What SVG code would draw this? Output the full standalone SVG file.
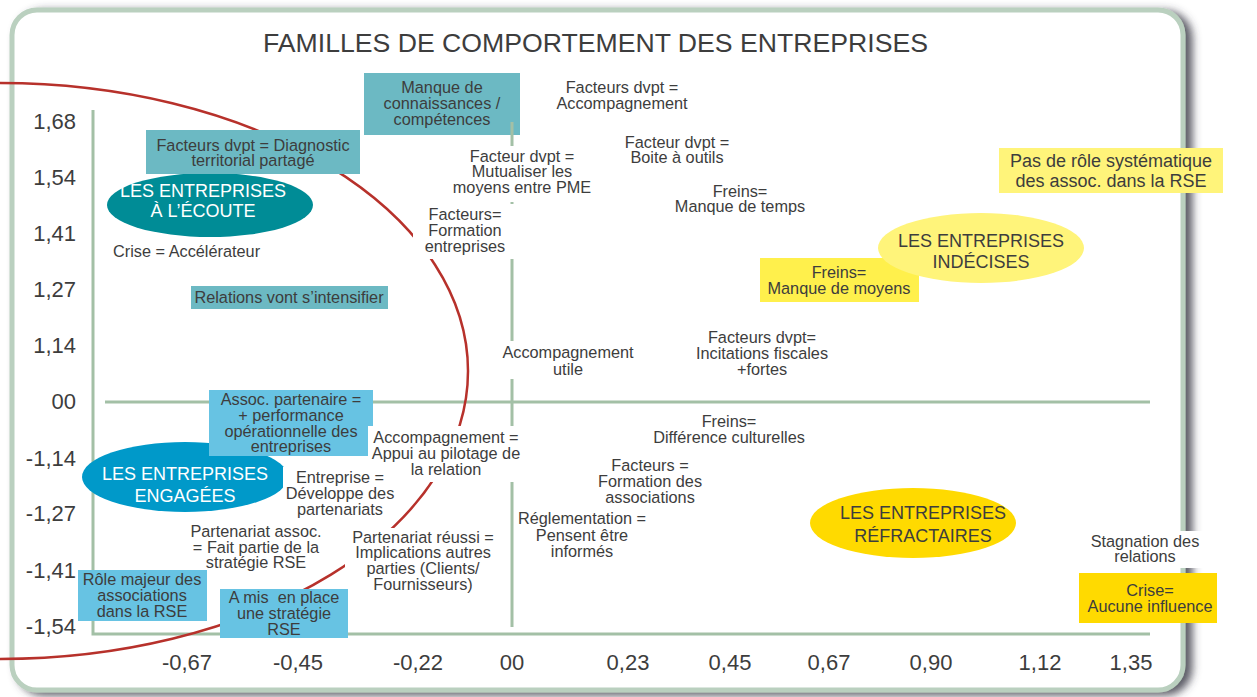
<svg xmlns="http://www.w3.org/2000/svg" width="1257" height="697" viewBox="0 0 1257 697">
<defs>
<filter id="sh" x="-3%" y="-4%" width="106%" height="108%">
<feGaussianBlur in="SourceAlpha" stdDeviation="4"/>
<feOffset dx="7" dy="3" result="b"/>
<feFlood flood-color="#3e3e4a" flood-opacity="0.85"/>
<feComposite in2="b" operator="in"/>
<feMerge><feMergeNode/><feMergeNode in="SourceGraphic"/></feMerge>
</filter>
<style>
text{font-family:"Liberation Sans",Arial,sans-serif;fill:#3d3d3d}
.l{font-size:16.3px;text-anchor:middle}
.ax{font-size:22px}
.ya{text-anchor:end}
.xa{text-anchor:middle}
.e{font-size:18px;text-anchor:middle}
.ew{fill:#fff}
.w{fill:#fff}
.axis{stroke:#a3c0a6;stroke-width:3;fill:none}
.teal{fill:#6cb9c3}
.blue{fill:#67c3e3}
.yel{fill:#fff04c}
.lyel{fill:#fff47a}
.gold{fill:#ffda00}
</style>
</defs>
<rect width="1257" height="697" fill="#fff"/>
<rect id="frame" x="12" y="10" width="1171" height="680" rx="25" fill="#fff" stroke="#bad0bf" stroke-width="5" filter="url(#sh)"/>
<text id="title" x="595.5" y="52" font-size="26" text-anchor="middle" textLength="665" lengthAdjust="spacingAndGlyphs">FAMILLES DE COMPORTEMENT DES ENTREPRISES</text>

<g id="y-labels" class="ax ya">
<text x="76" y="129">1,68</text>
<text x="76" y="185">1,54</text>
<text x="76" y="241">1,41</text>
<text x="76" y="297">1,27</text>
<text x="76" y="353">1,14</text>
<text x="76" y="409">00</text>
<text x="76" y="466">-1,14</text>
<text x="76" y="521">-1,27</text>
<text x="76" y="578">-1,41</text>
<text x="76" y="634">-1,54</text>
</g>
<g id="x-labels" class="ax xa">
<text x="187" y="670">-0,67</text>
<text x="298" y="670">-0,45</text>
<text x="418" y="670">-0,22</text>
<text x="512" y="670">00</text>
<text x="628" y="670">0,23</text>
<text x="730" y="670">0,45</text>
<text x="829" y="670">0,67</text>
<text x="931" y="670">0,90</text>
<text x="1040" y="670">1,12</text>
<text x="1131" y="670">1,35</text>
</g>

<g id="n-manque">
<rect class="teal" x="364" y="73" width="156" height="62"/>
<text class="l" x="442"><tspan x="442" y="93">Manque de</tspan><tspan x="442" y="109">connaissances /</tspan><tspan x="442" y="125">compétences</tspan></text>
</g>

<g id="axes">
<polyline class="axis" points="93,110 93,634 1150,634"/>
<line class="axis" x1="105" y1="402" x2="1150" y2="402"/>
<line class="axis" x1="512" y1="122" x2="512" y2="627"/>
</g>

<ellipse id="curve" cx="0" cy="371" rx="468" ry="288" fill="none" stroke="#b7312b" stroke-width="2.5"/>

<g id="n-ecoute">
<ellipse cx="210" cy="205" rx="103" ry="32" fill="#008c96"/>
<text class="e"><tspan class="ew" x="203" y="197">LES ENTREPRISES</tspan><tspan class="ew" x="203" y="217">À L’ÉCOUTE</tspan></text>
</g>
<g id="n-diagnostic">
<rect class="teal" x="146" y="130" width="214" height="44"/>
<text class="l"><tspan x="253" y="151">Facteurs dvpt = Diagnostic</tspan><tspan x="253" y="166">territorial partagé</tspan></text>
</g>
<g id="n-crise-acc">
<text class="l" x="113" y="257" style="text-anchor:start">Crise = Accélérateur</text>
</g>
<g id="n-relations">
<rect class="teal" x="191" y="286" width="197" height="23"/>
<text class="l" x="289" y="303">Relations vont s’intensifier</text>
</g>
<g id="n-accompagnement-top">
<text class="l"><tspan x="622" y="93">Facteurs dvpt =</tspan><tspan x="622" y="109">Accompagnement</tspan></text>
</g>
<g id="n-boite">
<text class="l"><tspan x="677" y="148">Facteur dvpt =</tspan><tspan x="677" y="163">Boite à outils</tspan></text>
</g>
<g id="n-mutualiser">
<rect class="w" x="455" y="146" width="134" height="56"/>
<text class="l"><tspan x="522" y="162">Facteur dvpt =</tspan><tspan x="522" y="177">Mutualiser les</tspan><tspan x="522" y="193">moyens entre PME</tspan></text>
</g>
<g id="n-temps">
<text class="l"><tspan x="740" y="197">Freins=</tspan><tspan x="740" y="212">Manque de temps</tspan></text>
</g>
<g id="n-formation-ent">
<rect class="w" x="413" y="204" width="106" height="55"/>
<text class="l"><tspan x="465" y="220">Facteurs=</tspan><tspan x="465" y="236">Formation</tspan><tspan x="465" y="252">entreprises</tspan></text>
</g>
<g id="n-moyens">
<rect class="yel" x="760" y="258" width="159" height="44"/>
<text class="l"><tspan x="839" y="278">Freins=</tspan><tspan x="839" y="294">Manque de moyens</tspan></text>
</g>
<g id="n-indecises">
<ellipse class="lyel" cx="981" cy="248" rx="103" ry="35"/>
<text class="e"><tspan x="981" y="247">LES ENTREPRISES</tspan><tspan x="981" y="268">INDÉCISES</tspan></text>
</g>
<g id="n-pas-de-role">
<rect class="lyel" x="999" y="148" width="224" height="45"/>
<text class="l" style="font-size:18px"><tspan x="1111" y="167">Pas de rôle systématique</tspan><tspan x="1111" y="187">des assoc. dans la RSE</tspan></text>
</g>
<g id="n-acc-utile">
<rect class="w" x="497" y="341" width="142" height="38"/>
<text class="l"><tspan x="568" y="358">Accompagnement</tspan><tspan x="568" y="375">utile</tspan></text>
</g>
<g id="n-incitations">
<text class="l"><tspan x="762" y="343">Facteurs dvpt=</tspan><tspan x="762" y="359">Incitations fiscales</tspan><tspan x="762" y="375">+fortes</tspan></text>
</g>
<g id="n-difference">
<text class="l"><tspan x="729" y="427">Freins=</tspan><tspan x="729" y="443">Différence culturelles</tspan></text>
</g>
<g id="n-formation-assoc">
<text class="l"><tspan x="650" y="471">Facteurs =</tspan><tspan x="650" y="487">Formation des</tspan><tspan x="650" y="503">associations</tspan></text>
</g>
<g id="n-reglementation">
<text class="l"><tspan x="582" y="524">Réglementation =</tspan><tspan x="582" y="541">Pensent être</tspan><tspan x="582" y="557">informés</tspan></text>
</g>
<g id="n-engagees">
<ellipse cx="185" cy="477" rx="103" ry="35" fill="#0099c9"/>
<text class="e"><tspan class="ew" x="185" y="480">LES ENTREPRISES</tspan><tspan class="ew" x="185" y="502">ENGAGÉES</tspan></text>
</g>
<g id="n-assoc-partenaire">
<rect class="blue" x="209" y="390" width="164" height="66"/>
<text class="l"><tspan x="291" y="405">Assoc. partenaire =</tspan><tspan x="291" y="421">+ performance</tspan><tspan x="291" y="437">opérationnelle des</tspan><tspan x="291" y="452">entreprises</tspan></text>
</g>
<g id="n-appui">
<rect class="w" x="368" y="426" width="157" height="56"/>
<text class="l"><tspan x="446" y="443">Accompagnement =</tspan><tspan x="446" y="459">Appui au pilotage de</tspan><tspan x="446" y="475">la relation</tspan></text>
</g>
<g id="n-developpe">
<rect class="w" x="283" y="467" width="109" height="54"/>
<text class="l"><tspan x="340" y="483">Entreprise =</tspan><tspan x="340" y="499">Développe des</tspan><tspan x="340" y="515">partenariats</tspan></text>
</g>
<g id="n-fait-partie">
<text class="l"><tspan x="256" y="537">Partenariat assoc.</tspan><tspan x="256" y="553">= Fait partie de la</tspan><tspan x="256" y="568">stratégie RSE</tspan></text>
</g>
<g id="n-reussi">
<rect class="w" x="345" y="528" width="157" height="68"/>
<text class="l"><tspan x="423" y="543">Partenariat réussi =</tspan><tspan x="423" y="558">Implications autres</tspan><tspan x="423" y="574">parties (Clients/</tspan><tspan x="423" y="590">Fournisseurs)</tspan></text>
</g>
<g id="n-role-majeur">
<rect class="blue" x="78" y="570" width="129" height="51"/>
<text class="l"><tspan x="142" y="585">Rôle majeur des</tspan><tspan x="142" y="601">associations</tspan><tspan x="142" y="617">dans la RSE</tspan></text>
</g>
<g id="n-strategie">
<rect class="blue" x="220" y="589" width="128" height="49"/>
<text class="l"><tspan x="284" y="603">A mis&#160; en place</tspan><tspan x="284" y="619">une stratégie</tspan><tspan x="284" y="635">RSE</tspan></text>
</g>
<g id="n-refractaires">
<ellipse class="gold" cx="913" cy="523" rx="103" ry="35"/>
<text class="e"><tspan x="923" y="519">LES ENTREPRISES</tspan><tspan x="923" y="542">RÉFRACTAIRES</tspan></text>
</g>
<g id="n-stagnation">
<rect class="w" x="1083" y="531" width="120" height="37"/>
<text class="l"><tspan x="1145" y="547">Stagnation des</tspan><tspan x="1145" y="562">relations</tspan></text>
</g>
<g id="n-aucune">
<rect class="gold" x="1079" y="573" width="138" height="50"/>
<text class="l"><tspan x="1150" y="596">Crise=</tspan><tspan x="1150" y="612">Aucune influence</tspan></text>
</g>
<g id="connectors"/>
</svg>
